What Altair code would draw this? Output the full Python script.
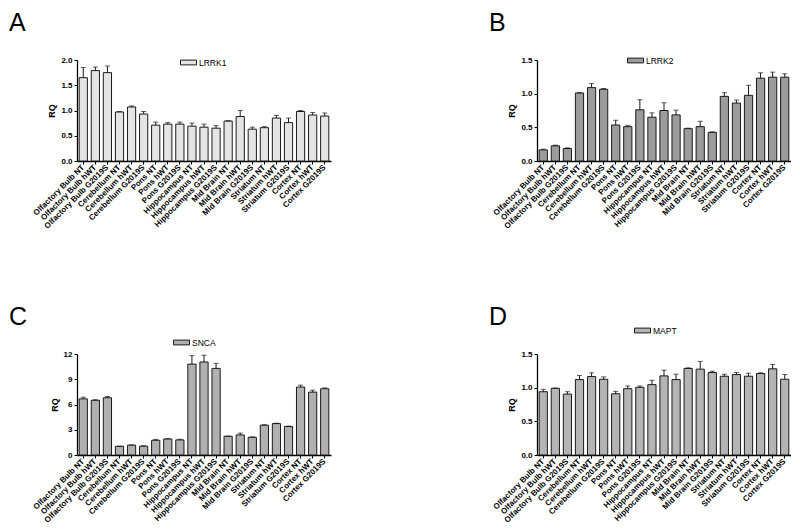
import altair as alt
import pandas as pd

FONT = "Liberation Sans"

categories = [
    "Olfactory Bulb NT", "Olfactory Bulb hWT", "Olfactory Bulb G2019S",
    "Cerebellum NT", "Cerebellum hWT", "Cerebellum G2019S",
    "Pons NT", "Pons hWT", "Pons G2019S",
    "Hippocampus NT", "Hippocampus hWT", "Hippocampus G2019S",
    "Mid Brain NT", "Mid Brain hWT", "Mid Brain G2019S",
    "Striatum NT", "Striatum hWT", "Striatum G2019S",
    "Cortex NT", "Cortex hWT", "Cortex G2019S",
]

lrrk1_mean = [1.65, 1.79, 1.75, 0.97, 1.07, 0.93, 0.71, 0.73, 0.73, 0.69, 0.67,
              0.65, 0.79, 0.88, 0.63, 0.66, 0.85, 0.76, 0.98, 0.91, 0.89]
lrrk1_sem = [0.20, 0.07, 0.13, 0.01, 0.02, 0.05, 0.06, 0.03, 0.04, 0.06, 0.06,
             0.05, 0.01, 0.12, 0.04, 0.02, 0.05, 0.09, 0.02, 0.05, 0.06]

lrrk2_mean = [0.165, 0.225, 0.185, 1.01, 1.09, 1.065, 0.535, 0.51, 0.76, 0.65, 0.75,
              0.685, 0.48, 0.51, 0.425, 0.96, 0.86, 0.975, 1.23, 1.245, 1.245]
lrrk2_sem = [0.01, 0.01, 0.01, 0.005, 0.06, 0.012, 0.07, 0.02, 0.15, 0.065, 0.115,
             0.07, 0.008, 0.08, 0.008, 0.055, 0.045, 0.15, 0.08, 0.075, 0.05]

snca_mean = [6.67, 6.5, 6.8, 1.03, 1.17, 1.05, 1.75, 1.9, 1.79, 10.8, 11.05,
             10.29, 2.22, 2.38, 2.1, 3.54, 3.73, 3.38, 8.07, 7.47, 7.87]
snca_sem = [0.2, 0.07, 0.15, 0.02, 0.03, 0.05, 0.1, 0.05, 0.08, 1.0, 0.8,
            0.6, 0.03, 0.22, 0.05, 0.06, 0.05, 0.05, 0.23, 0.23, 0.1]

mapt_mean = [0.94, 0.99, 0.905, 1.12, 1.165, 1.125, 0.91, 0.985, 1.005, 1.045, 1.175,
             1.12, 1.285, 1.275, 1.225, 1.17, 1.195, 1.17, 1.21, 1.28, 1.125]
mapt_sem = [0.035, 0.005, 0.035, 0.06, 0.055, 0.035, 0.035, 0.04, 0.02, 0.065, 0.085,
            0.08, 0.01, 0.115, 0.02, 0.03, 0.03, 0.045, 0.01, 0.065, 0.07]

INK = "#1a1a1a"


def panel(gene, letter, mean, sem, fill, ymax, yvals, yfmt, legx, legy, letx):
    df = pd.DataFrame({"cat": categories, "mean": mean, "sem": sem})
    df["gene"] = gene
    df["hi"] = df["mean"] + df["sem"]
    xscale = alt.Scale(paddingInner=0.32, paddingOuter=0.18)
    xaxis = alt.Axis(title=None, labelAngle=-45, labelAlign="right",
                     labelBaseline="middle", labelPadding=2)
    x = alt.X("cat:N", sort=categories, scale=xscale, axis=xaxis)
    yscale = alt.Scale(domain=[0, ymax], nice=False, zero=True)
    yaxis = alt.Axis(title="RQ", values=yvals, format=yfmt)
    base = alt.Chart(df)
    bars = base.mark_bar(stroke=INK, strokeWidth=1).encode(
        x=x,
        y=alt.Y("mean:Q", scale=yscale, axis=yaxis),
        color=alt.Color(
            "gene:N",
            scale=alt.Scale(range=[fill]),
            legend=alt.Legend(
                orient="none", legendX=legx, legendY=legy, title=None,
                symbolType="M-1,-0.3H1V0.3H-1Z", symbolSize=256,
                symbolStrokeColor=INK, symbolStrokeWidth=1,
                labelFont=FONT, labelFontSize=8.5, labelColor="black",
                labelOffset=2, padding=0,
            ),
        ),
    )
    err = base.mark_rule(color=INK, strokeWidth=1).encode(
        x=x,
        y=alt.Y("mean:Q", scale=yscale, axis=yaxis),
        y2="hi:Q",
    )
    cap = base.mark_tick(color=INK, thickness=1, size=5).encode(
        x=x,
        y=alt.Y("hi:Q", scale=yscale, axis=yaxis),
    )
    lab = alt.Chart(pd.DataFrame({"t": [letter]})).mark_text(
        align="left", baseline="top", fontSize=25, font=FONT, color="black",
        x=letx, y=-49,
    ).encode(text="t:N")
    return alt.layer(bars, err, cap, lab).properties(width=254, height=101)


pA = panel("LRRK1", "A", lrrk1_mean, lrrk1_sem, "#e4e4e4", 2.0,
           [0, 0.5, 1.0, 1.5, 2.0], ".1f", 103, -6, -68)
pB = panel("LRRK2", "B", lrrk2_mean, lrrk2_sem, "#9c9c9c", 1.5,
           [0, 0.5, 1.0, 1.5], ".1f", 90, -8, -48)
pC = panel("SNCA", "C", snca_mean, snca_sem, "#b0b0b0", 12,
           [0, 3, 6, 9, 12], "d", 96, -20, -68)
pD = panel("MAPT", "D", mapt_mean, mapt_sem, "#b4b4b4", 1.5,
           [0, 0.5, 1.0, 1.5], ".1f", 97, -32, -48)

res = dict(x="independent", y="independent", color="independent")
row1 = alt.hconcat(pA, pB, spacing=206, bounds="flush").resolve_scale(**res)
row2 = alt.hconcat(pC, pD, spacing=206, bounds="flush").resolve_scale(**res)

chart = (
    alt.vconcat(row1, row2, spacing=294, bounds="flush")
    .resolve_scale(**res)
    .properties(padding={"top": 3, "left": 1, "right": 0, "bottom": 0})
    .configure_view(stroke=None)
    .configure_axis(
        grid=False,
        domainColor="black", domainWidth=1.3,
        tickColor="black", tickSize=3, tickWidth=1,
        labelFont=FONT, labelFontSize=8, labelFontWeight="bold", labelColor="black",
        titleFont=FONT, titleFontSize=9, titleFontWeight="bold", titleColor="black",
        titlePadding=4,
    )
)

chart.save("out.html", embed_options={"renderer": "svg", "actions": False})
